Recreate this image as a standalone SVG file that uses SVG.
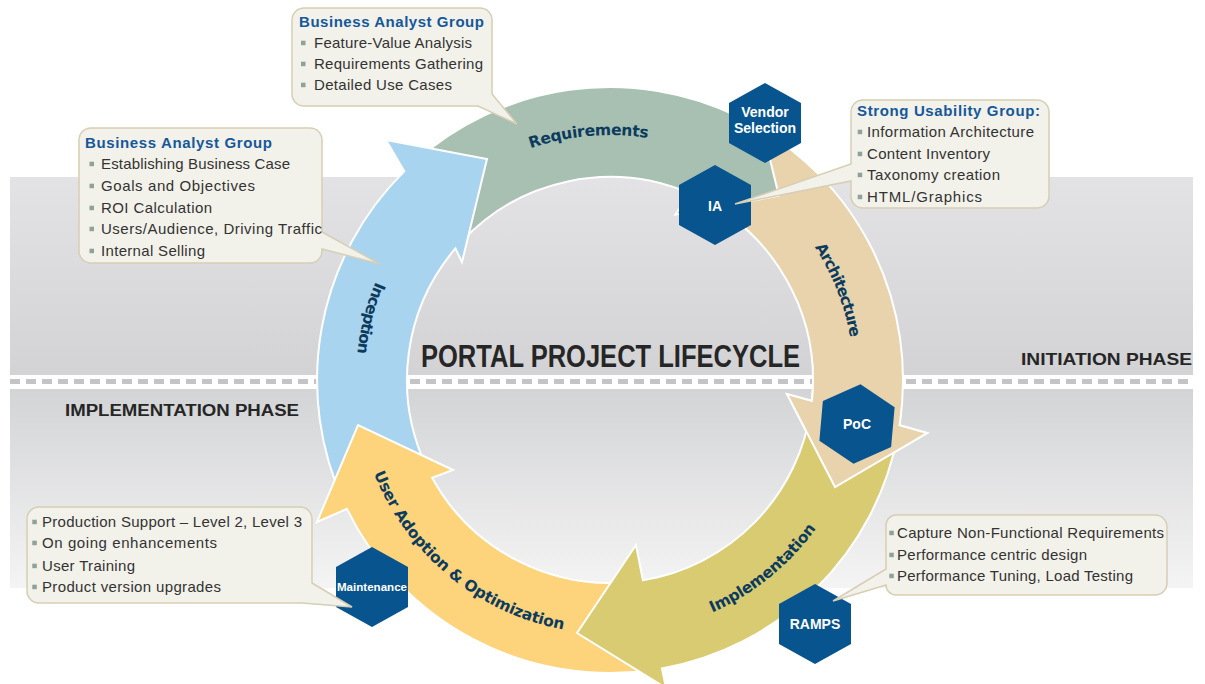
<svg xmlns="http://www.w3.org/2000/svg" width="1205" height="684" viewBox="0 0 1205 684">
<defs>
<linearGradient id="gUp" x1="0" y1="0" x2="0" y2="1"><stop offset="0" stop-color="#e3e3e5"/><stop offset="1" stop-color="#d3d3d5"/></linearGradient>
<linearGradient id="gLo" x1="0" y1="0" x2="0" y2="1"><stop offset="0" stop-color="#d3d4d6"/><stop offset="1" stop-color="#f4f4f4"/></linearGradient>
<polygon id="hex" points="0,-40 36,-20 36,20 0,40 -36,20 -36,-20"/>
<path id="pReq" d="M388.0,276.5 A245,245 0 0 1 810.7,239.5"/>
<path id="pArch" d="M646.1,138.7 A244,244 0 0 1 801.0,531.9"/>
<path id="pImpl" d="M519.0,617.1 A254,254 0 0 0 860.9,340.3"/>
<path id="pUser" d="M370.6,295.2 A254,254 0 0 0 738.9,598.8"/>
<path id="pInc" d="M541.7,135.3 A254,254 0 0 0 432.3,561.5"/>
</defs>
<style>
.arr{stroke:#fff;stroke-width:2;stroke-linejoin:miter}
.lbl{font-family:"DejaVu Sans","Liberation Sans",sans-serif;font-weight:bold;font-size:15.5px;fill:#0c3b5e}
.hx{fill:#07548f}
.ht{font-family:"Liberation Sans",Arial,sans-serif;font-weight:bold;font-size:14px;fill:#fff;text-anchor:middle}
.box{fill:#f2f1ea;stroke:#d6ceb5;stroke-width:1.5}
.ct{font-family:"Liberation Sans",Arial,sans-serif;font-size:15px;fill:#333}
.cti{font-family:"Liberation Sans",Arial,sans-serif;font-size:15px;font-weight:bold;fill:#15589a}
.b{fill:#8fa298}
.ph{font-family:"Liberation Sans",Arial,sans-serif;font-weight:bold;fill:#262626}
</style>
<rect width="1205" height="684" fill="#fff"/>
<g id="background">
<rect x="10" y="177" width="1183" height="198" fill="url(#gUp)"/>
<rect x="10" y="389" width="1183" height="199" fill="url(#gLo)"/>
<line x1="10" y1="381.5" x2="1193" y2="381.5" stroke="#c4c4c7" stroke-width="5" stroke-dasharray="10 6"/>
</g>
<g id="connectors">
<path class="arr" fill="#e8d3ac" d="M747.6,121.3 A293,293 0 0 1 899.5,425.3 L927,433 L835,487 L787,394 L811.9,400.9 A203,203 0 0 0 695.8,196.0 Z"/>
<path class="arr" fill="#a8c0b1" d="M414.0,162.3 A293,293 0 0 1 738.4,116.6 L753.7,92.9 L778.9,195.7 L675.5,214.5 L689.3,193.1 A203,203 0 0 0 461.5,241.6 Z"/>
<path class="arr" fill="#a9d4ef" d="M344.5,503.8 A293,293 0 0 1 404.3,171.4 L386,140 L487,159 L462,262 L455.4,248.4 A203,203 0 0 0 426.0,465.8 Z"/>
<path class="arr" fill="#fdd37b" d="M650.8,670.2 A293,293 0 0 1 346.9,508.9 L317,522 L358,425 L453,470 L432.1,477.8 A203,203 0 0 0 634.7,581.5 Z"/>
<path class="arr" fill="#d9cb71" d="M897.6,435.9 A293,293 0 0 1 661.9,668.4 L666,688 L577,633 L636,545 L642.9,580.3 A203,203 0 0 0 811.0,408.3 Z"/>
<polyline class="arr" fill="#e8d3ac" points="901.1,413.2 899.5,425.3 927,433 835,487 787,394 811.9,400.9 812.6,392.4"/>
</g>
<g id="phase-inception"><text class="lbl"><textPath href="#pInc" startOffset="50%" text-anchor="middle" textLength="74" lengthAdjust="spacing">Inception</textPath></text></g>
<g id="phase-requirements"><text class="lbl"><textPath href="#pReq" startOffset="50%" text-anchor="middle" textLength="119" lengthAdjust="spacing">Requirements</textPath></text></g>
<g id="phase-architecture"><text class="lbl"><textPath href="#pArch" startOffset="50%" text-anchor="middle" textLength="98" lengthAdjust="spacing">Architecture</textPath></text></g>
<g id="phase-implementation"><text class="lbl"><textPath href="#pImpl" startOffset="50%" text-anchor="middle" textLength="135" lengthAdjust="spacing">Implementation</textPath></text></g>
<g id="phase-adoption"><text class="lbl"><textPath href="#pUser" startOffset="50%" text-anchor="middle" textLength="256" lengthAdjust="spacing">User Adoption &amp; Optimization</textPath></text></g>
<g id="hex-vendor"><use href="#hex" class="hx" x="765" y="123"/><text class="ht" x="765" y="117">Vendor</text><text class="ht" x="765" y="133">Selection</text></g>
<g id="hex-ia"><use href="#hex" class="hx" x="715" y="205"/><text class="ht" x="715" y="211">IA</text></g>
<g id="hex-poc"><use href="#hex" class="hx" transform="translate(857,424) rotate(5)"/><text class="ht" x="857" y="429">PoC</text></g>
<g id="hex-ramps"><use href="#hex" class="hx" x="815" y="624"/><text class="ht" x="815" y="629">RAMPS</text></g>
<g id="hex-maintenance"><use href="#hex" class="hx" x="372" y="587"/><text class="ht" x="372" y="591" style="font-size:11.5px" textLength="70" lengthAdjust="spacingAndGlyphs">Maintenance</text></g>
<g id="callout-requirements">
<path class="box" d="M304,8 H480 A12,12 0 0 1 492,20 V94 L517,124 L478,106 H304 A12,12 0 0 1 292,94 V20 A12,12 0 0 1 304,8 Z"/>
<text class="cti" x="299" y="27" textLength="185">Business Analyst Group</text>
<rect class="b" x="301" y="40.7" width="4.5" height="4.5"/><text class="ct" x="314" y="48" textLength="158">Feature-Value Analysis</text>
<rect class="b" x="301" y="61.7" width="4.5" height="4.5"/><text class="ct" x="314" y="69" textLength="169">Requirements Gathering</text>
<rect class="b" x="301" y="82.7" width="4.5" height="4.5"/><text class="ct" x="314" y="90" textLength="138">Detailed Use Cases</text>
</g>
<g id="callout-inception">
<path class="box" d="M91,128 H310 A12,12 0 0 1 322,140 V232 L380,264 L322,249 V251 A12,12 0 0 1 310,263 H91 A12,12 0 0 1 79,251 V140 A12,12 0 0 1 91,128 Z"/>
<text class="cti" x="85" y="148" textLength="187">Business Analyst Group</text>
<rect class="b" x="89.5" y="161.7" width="4.5" height="4.5"/><text class="ct" x="101" y="169" textLength="189">Establishing Business Case</text>
<rect class="b" x="89.5" y="183.7" width="4.5" height="4.5"/><text class="ct" x="101" y="191" textLength="154">Goals and Objectives</text>
<rect class="b" x="89.5" y="205.7" width="4.5" height="4.5"/><text class="ct" x="101" y="213" textLength="111">ROI Calculation</text>
<rect class="b" x="89.5" y="226.7" width="4.5" height="4.5"/><text class="ct" x="101" y="234" textLength="221">Users/Audience, Driving Traffic</text>
<rect class="b" x="89.5" y="248.7" width="4.5" height="4.5"/><text class="ct" x="101" y="256" textLength="104">Internal Selling</text>
</g>
<g id="callout-architecture">
<path class="box" d="M863,100 H1037 A12,12 0 0 1 1049,112 V196 A12,12 0 0 1 1037,208 H863 A12,12 0 0 1 851,196 V181 L735,204 L851,164 V112 A12,12 0 0 1 863,100 Z"/>
<text class="cti" x="857" y="116" textLength="183">Strong Usability Group:</text>
<rect class="b" x="857.7" y="129.7" width="4.5" height="4.5"/><text class="ct" x="867" y="137" textLength="167">Information Architecture</text>
<rect class="b" x="857.7" y="151.7" width="4.5" height="4.5"/><text class="ct" x="867" y="159" textLength="123">Content Inventory</text>
<rect class="b" x="857.7" y="172.7" width="4.5" height="4.5"/><text class="ct" x="867" y="180" textLength="133">Taxonomy creation</text>
<rect class="b" x="857.7" y="194.7" width="4.5" height="4.5"/><text class="ct" x="867" y="202" textLength="115">HTML/Graphics</text>
</g>
<g id="callout-implementation">
<path class="box" d="M896,515 H1155 A12,12 0 0 1 1167,527 V583 A12,12 0 0 1 1155,595 H896 A10,10 0 0 1 886,585 L833,601 L886,569 V525 A10,10 0 0 1 896,515 Z"/>
<rect class="b" x="889.3" y="530.7" width="4.5" height="4.5"/><text class="ct" x="897" y="538" textLength="267">Capture Non-Functional Requirements</text>
<rect class="b" x="889.3" y="552.7" width="4.5" height="4.5"/><text class="ct" x="897" y="560" textLength="190">Performance centric design</text>
<rect class="b" x="889.3" y="573.7" width="4.5" height="4.5"/><text class="ct" x="897" y="581" textLength="236">Performance Tuning, Load Testing</text>
</g>
<g id="callout-adoption">
<path class="box" d="M39,507 H300 A12,12 0 0 1 312,519 V583 L352,607 L302,603 H39 A12,12 0 0 1 27,591 V519 A12,12 0 0 1 39,507 Z"/>
<rect class="b" x="32.3" y="519.7" width="4.5" height="4.5"/><text class="ct" x="42" y="527" textLength="260">Production Support – Level 2, Level 3</text>
<rect class="b" x="32.3" y="540.7" width="4.5" height="4.5"/><text class="ct" x="42" y="548" textLength="175">On going enhancements</text>
<rect class="b" x="32.3" y="563.7" width="4.5" height="4.5"/><text class="ct" x="42" y="571" textLength="93">User Training</text>
<rect class="b" x="32.3" y="584.7" width="4.5" height="4.5"/><text class="ct" x="42" y="592" textLength="179">Product version upgrades</text>
</g>
<g id="titles">
<text class="ph" x="421" y="367" font-size="31" textLength="379" lengthAdjust="spacingAndGlyphs">PORTAL PROJECT LIFECYCLE</text>
<text class="ph" x="1021" y="365" font-size="17" textLength="171" lengthAdjust="spacingAndGlyphs">INITIATION PHASE</text>
<text class="ph" x="65" y="416" font-size="16" textLength="234" lengthAdjust="spacingAndGlyphs">IMPLEMENTATION PHASE</text>
</g>
</svg>
